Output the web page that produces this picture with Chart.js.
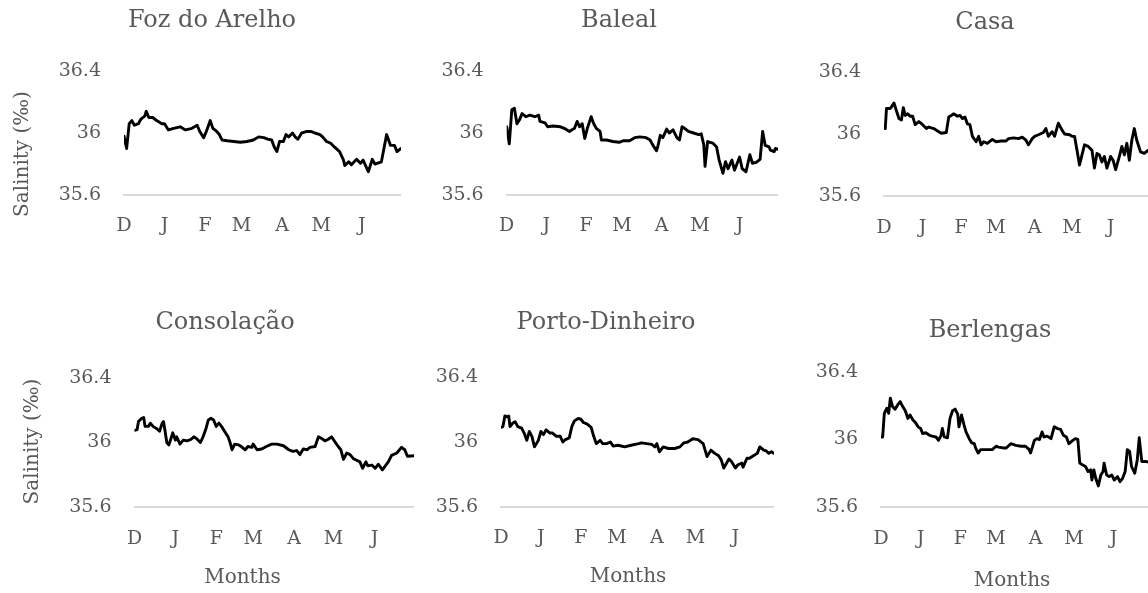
<!DOCTYPE html>
<html>
<head>
<meta charset="utf-8">
<script src="https://cdn.jsdelivr.net/npm/chart.js@4.4.1/dist/chart.umd.min.js"></script>
<style>
  html, body { margin: 0; padding: 0; background: #ffffff; overflow: hidden; }
  #board { position: relative; width: 1148px; height: 593px; overflow: hidden; }
  #board canvas { position: absolute; }
</style>
</head>
<body>
<div id="board"></div>
<script>
// Month axis: day offsets (from 1 December) where each month begins, and their labels
const monthStarts = [0, 31, 62, 90, 121, 151, 182];
const monthLabels = ['D', 'J', 'F', 'M', 'A', 'M', 'J'];
const seasonLength = 212;

// Salinity axis ticks
const salinityTicks = [35.6, 36, 36.4];
const salinityTickLabels = ['35.6', '36', '36.4'];

const salinityCaption = 'Salinity (‰)';
const monthsCaption = 'Months';

// Daily salinity records per station: [day since 1 Dec, salinity ‰]
const fozDoArelho = [[0,35.98],[2,35.90],[4,36.06],[6,36.08],[8,36.05],[11,36.06],[13,36.09],[16,36.11],[17,36.14],[19,36.10],[22,36.10],[25,36.08],[29,36.06],[31,36.06],[34,36.02],[38,36.03],[43,36.04],[47,36.02],[52,36.03],[56,36.05],[58,36.01],[61,35.97],[63,36.01],[66,36.08],[68,36.03],[71,36.01],[73,35.99],[75,35.955],[79,35.95],[84,35.945],[89,35.94],[94,35.945],[99,35.955],[103,35.975],[107,35.97],[110,35.96],[113,35.955],[115,35.91],[117,35.88],[119,35.945],[122,35.945],[124,35.99],[126,35.975],[129,36.00],[131,35.975],[133,35.96],[136,36.00],[140,36.01],[143,36.01],[146,36.00],[150,35.99],[152,35.975],[155,35.945],[158,35.935],[161,35.91],[165,35.88],[168,35.825],[169,35.79],[172,35.815],[174,35.795],[178,35.83],[181,35.805],[183,35.825],[187,35.75],[190,35.83],[192,35.80],[196,35.81],[197,35.815],[201,35.99],[204,35.92],[207,35.92],[209,35.88],[212,35.90]];

const baleal = [[0,36.04],[2,35.93],[4,36.15],[6,36.16],[8,36.06],[10,36.085],[12,36.125],[15,36.105],[18,36.115],[22,36.105],[25,36.115],[26,36.075],[30,36.065],[32,36.04],[36,36.045],[42,36.04],[45,36.03],[49,36.01],[53,36.03],[55,36.075],[57,36.04],[59,36.06],[61,35.965],[63,36.03],[66,36.105],[68,36.06],[70,36.03],[73,36.01],[74,35.955],[78,35.955],[83,35.945],[88,35.94],[91,35.95],[96,35.95],[100,35.97],[104,35.975],[109,35.97],[112,35.955],[114,35.925],[117,35.885],[118,35.91],[120,35.985],[122,35.97],[125,36.025],[127,36.00],[130,36.02],[133,35.97],[135,35.955],[137,36.04],[139,36.03],[142,36.01],[146,36.00],[150,35.99],[152,35.995],[154,35.925],[155,35.785],[157,35.945],[161,35.935],[164,35.91],[166,35.825],[169,35.74],[171,35.815],[173,35.77],[176,35.825],[178,35.76],[182,35.845],[184,35.77],[187,35.75],[190,35.86],[192,35.805],[195,35.81],[198,35.83],[200,36.01],[202,35.92],[205,35.91],[206,35.89],[209,35.88],[210,35.90],[212,35.895]];

const casa = [[0,36.045],[1,36.035],[2,36.165],[5,36.165],[6,36.175],[8,36.20],[10,36.15],[12,36.10],[14,36.09],[15.5,36.17],[17,36.12],[19,36.13],[21,36.115],[23,36.115],[25,36.06],[28,36.08],[31,36.06],[34,36.035],[36,36.045],[40,36.035],[43,36.02],[46,36.005],[50,36.01],[52,36.11],[54,36.12],[56,36.13],[59,36.115],[61,36.12],[63,36.10],[65,36.11],[67,36.065],[69,36.06],[71,35.985],[74,35.95],[76,35.985],[78,35.93],[80,35.95],[83,35.94],[87,35.965],[90,35.95],[94,35.955],[98,35.955],[100,35.97],[104,35.975],[108,35.97],[111,35.98],[114,35.96],[116,35.93],[119,35.97],[121,35.985],[124,35.995],[128,36.01],[130,36.035],[132,35.985],[135,36.015],[137,35.985],[140,36.07],[143,36.025],[145,36.00],[149,35.995],[151,35.985],[153,35.985],[155,35.895],[157,35.80],[159,35.865],[161,35.93],[164,35.92],[167,35.895],[169,35.78],[171,35.875],[173,35.865],[175,35.82],[177,35.855],[179,35.78],[182,35.855],[184,35.83],[186,35.77],[189,35.855],[191,35.92],[193,35.865],[195,35.94],[197,35.83],[199,35.96],[201,36.035],[203,35.96],[206,35.885],[209,35.875],[212,35.895]];

const consolacao = [[0,36.075],[2,36.08],[3,36.13],[5.5,36.15],[7,36.155],[8,36.10],[10.5,36.10],[12,36.12],[14,36.10],[17,36.085],[19,36.07],[21,36.12],[22,36.13],[23,36.08],[24.5,36.00],[26,35.985],[27.5,36.02],[29,36.06],[31,36.015],[32,36.035],[34.5,35.99],[37,36.015],[40,36.01],[43,36.02],[45,36.035],[47,36.025],[50,36.00],[52,36.035],[54,36.08],[56,36.14],[58,36.15],[60,36.14],[62,36.10],[64,36.12],[66,36.10],[69,36.06],[71,36.035],[72.5,36.00],[74,35.955],[76,35.99],[79,35.985],[81,35.975],[84,35.955],[86,35.975],[89,35.97],[90,35.99],[93,35.955],[96.5,35.96],[100,35.975],[104,35.99],[108,35.99],[113,35.98],[117,35.955],[120,35.945],[123,35.95],[125.5,35.925],[128,35.96],[131,35.955],[133,35.97],[137,35.975],[139.5,36.035],[142,36.025],[144.5,36.01],[147,36.02],[149.5,36.035],[152,36.005],[154.5,35.975],[156.5,35.955],[158.5,35.895],[161,35.935],[163.5,35.925],[166,35.90],[168.5,35.89],[171,35.88],[173,35.84],[175.5,35.88],[177,35.855],[180,35.86],[182.5,35.84],[185,35.865],[188,35.83],[192.5,35.88],[195,35.92],[199,35.935],[202.5,35.97],[205,35.955],[207,35.915],[212,35.918]];

const portoDinheiro = [[0,36.09],[1.5,36.095],[3,36.16],[5,36.155],[6,36.16],[7,36.095],[9,36.115],[11,36.125],[13,36.095],[16,36.085],[18,36.055],[20,36.01],[22,36.065],[24,36.035],[26,35.97],[29,36.01],[31,36.065],[33,36.045],[35,36.075],[38,36.055],[40,36.055],[43,36.035],[46,36.035],[48,36.00],[50,36.015],[53,36.025],[55,36.095],[57,36.13],[60,36.145],[62,36.14],[64,36.12],[67,36.11],[70,36.09],[72,36.035],[74,35.99],[77,36.01],[79,35.99],[82,35.99],[85,36.0],[87,35.975],[91,35.98],[96,35.97],[101,35.98],[107,35.99],[109,35.995],[113,35.99],[117,35.985],[119.5,35.97],[121,35.99],[123,35.94],[126,35.97],[130,35.96],[135,35.96],[139,35.97],[142,35.995],[145,36.0],[149,36.02],[153,36.015],[157,35.99],[160,35.91],[163,35.95],[166,35.93],[169,35.915],[171,35.89],[173,35.84],[177,35.895],[179,35.88],[182,35.84],[184,35.86],[187,35.87],[188,35.845],[191,35.90],[193,35.90],[196,35.915],[199,35.93],[201,35.97],[204,35.95],[206,35.945],[208,35.93],[210,35.94],[212,35.93]];

const berlengas = [[0,36.015],[1.3,36.015],[2.6,36.155],[4.5,36.185],[6,36.155],[7.3,36.245],[9,36.195],[11,36.18],[13,36.205],[15,36.225],[17,36.195],[19,36.17],[21,36.125],[22.7,36.145],[25,36.115],[27,36.10],[29,36.075],[31,36.065],[32.6,36.035],[35,36.04],[38,36.025],[40,36.02],[43,36.015],[45,35.995],[47,36.025],[48,36.065],[49.5,36.015],[52,36.01],[54,36.125],[56,36.17],[58,36.18],[60,36.15],[61,36.075],[63,36.145],[65,36.085],[66.5,36.045],[69,36.005],[71,35.98],[73,35.975],[74,35.95],[76,35.92],[78,35.94],[82,35.94],[87,35.94],[90,35.96],[92,35.955],[95.5,35.95],[98,35.95],[101.5,35.975],[105.5,35.965],[109.5,35.96],[113,35.96],[116,35.94],[117,35.92],[120,35.995],[122,36.005],[124,36.0],[126,36.045],[127.5,36.015],[130,36.02],[133,36.005],[135.5,36.075],[138,36.065],[140.5,36.06],[142.7,36.025],[145,36.015],[147,35.975],[150,35.995],[152,36.005],[154,36.0],[155.5,35.86],[157.5,35.85],[160,35.84],[162,35.81],[164,35.82],[165,35.76],[166.5,35.82],[168,35.77],[170,35.725],[172,35.79],[173.7,35.81],[174.5,35.86],[176.5,35.79],[178.5,35.78],[180.5,35.79],[182.5,35.76],[185,35.78],[187,35.75],[189,35.77],[191,35.81],[192.7,35.94],[194.5,35.93],[196,35.84],[198.5,35.80],[200.5,35.88],[202,36.01],[204,35.87],[207,35.87],[212,35.86]];

const FONT = 'DejaVu Serif';
const TEXT = '#595959';

// Station names and axis captions, placed freely on each panel (canvas pixels)
const panelCaptions = {
  id: 'panelCaptions',
  afterDraw(chart, args, opts) {
    const ctx = chart.ctx;
    (opts.items || []).forEach(item => {
      ctx.save();
      ctx.font = item.size + 'px "' + FONT + '"';
      ctx.fillStyle = TEXT;
      ctx.textAlign = 'center';
      ctx.textBaseline = 'middle';
      ctx.translate(item.x, item.y);
      if (item.vertical) ctx.rotate(-Math.PI / 2);
      ctx.fillText(item.text, 0, 0);
      ctx.restore();
    });
  }
};

// Panel frames in page pixels: canvas origin, plot box (left, right, top of 36.4, bottom at 35.6)
const panels = [
  { name: 'Foz do Arelho',  series: fozDoArelho,   left: 0,   top: 0,   plotL: 124,   plotR: 401,  plotT: 71,  plotB: 195, xh: 50, xPad: 20,
    title: [212, 21], captions: [{ text: salinityCaption, x: 23, y: 154, vertical: true }] },
  { name: 'Baleal',         series: baleal,        left: 430, top: 0,   plotL: 506.7, plotR: 778,  plotT: 71,  plotB: 195, xh: 50, xPad: 20,
    title: [619, 21], captions: [] },
  { name: 'Casa',           series: casa,          left: 810, top: 0,   plotL: 884,   plotR: 1148, plotT: 72,  plotB: 196, xh: 50, xPad: 20.5,
    title: [985, 23], captions: [] },
  { name: 'Consolação',     series: consolacao,    left: 0,   top: 290, plotL: 134.5, plotR: 414,  plotT: 378, plotB: 507, xh: 86, xPad: 20.5,
    title: [225, 323], captions: [{ text: salinityCaption, x: 33, y: 441.5, vertical: true }, { text: monthsCaption, x: 242.5, y: 578 }] },
  { name: 'Porto-Dinheiro', series: portoDinheiro, left: 425, top: 290, plotL: 501,   plotR: 774,  plotT: 377, plotB: 507, xh: 86, xPad: 19.5,
    title: [606, 322.5], captions: [{ text: monthsCaption, x: 628, y: 577 }] },
  { name: 'Berlengas',      series: berlengas,     left: 805, top: 290, plotL: 881,   plotR: 1152, plotT: 372, plotB: 507, xh: 86, xPad: 20.5,
    title: [990, 331], captions: [{ text: monthsCaption, x: 1012, y: 581 }] }
];

const board = document.getElementById('board');

panels.forEach(p => {
  const canvas = document.createElement('canvas');
  canvas.width = Math.ceil(p.plotR - p.left);
  canvas.height = Math.ceil(p.plotB + p.xh - p.top);
  canvas.style.left = p.left + 'px';
  canvas.style.top = p.top + 'px';
  board.appendChild(canvas);

  const yAxisWidth = p.plotL - p.left;
  const captionItems = [{ text: p.name, x: p.title[0], y: p.title[1], size: 24 }]
    .concat(p.captions.map(c => ({ ...c, size: 20 })))
    .map(c => ({ ...c, x: c.x - p.left, y: c.y - p.top }));

  new Chart(canvas, {
    type: 'line',
    data: {
      datasets: [{
        label: p.name,
        data: p.series.map(([day, value]) => ({ x: day, y: value })),
        borderColor: '#000000',
        borderWidth: 2.9,
        pointRadius: 0,
        tension: 0,
        borderJoinStyle: 'round',
        borderCapStyle: 'round',
        fill: false
      }]
    },
    options: {
      responsive: false,
      animation: false,
      events: [],
      layout: { padding: { left: 0, right: canvas.width - (p.plotR - p.left), top: p.plotT - p.top, bottom: 0 } },
      plugins: {
        legend: { display: false },
        tooltip: { enabled: false },
        title: { display: false },
        panelCaptions: { items: captionItems }
      },
      scales: {
        x: {
          type: 'linear',
          min: 0,
          max: seasonLength,
          afterBuildTicks: scale => { scale.ticks = monthStarts.map(v => ({ value: v })); },
          afterFit: scale => { scale.height = p.xh; },
          ticks: {
            autoSkip: false,
            maxRotation: 0,
            padding: p.xPad,
            color: TEXT,
            font: { family: FONT, size: 19 },
            callback: (value, index) => monthLabels[index]
          },
          grid: { display: false, drawTicks: false },
          border: { display: true, color: '#d9d9d9', width: 2 }
        },
        y: {
          min: 35.6,
          max: 36.4,
          afterBuildTicks: scale => { scale.ticks = salinityTicks.map(v => ({ value: v })); },
          afterFit: scale => { scale.width = yAxisWidth; },
          ticks: {
            padding: 23,
            color: TEXT,
            font: { family: FONT, size: 19 },
            callback: (value, index) => salinityTickLabels[index]
          },
          grid: { display: false, drawTicks: false },
          border: { display: false }
        }
      }
    },
    plugins: [panelCaptions]
  });
});
</script>
</body>
</html>
